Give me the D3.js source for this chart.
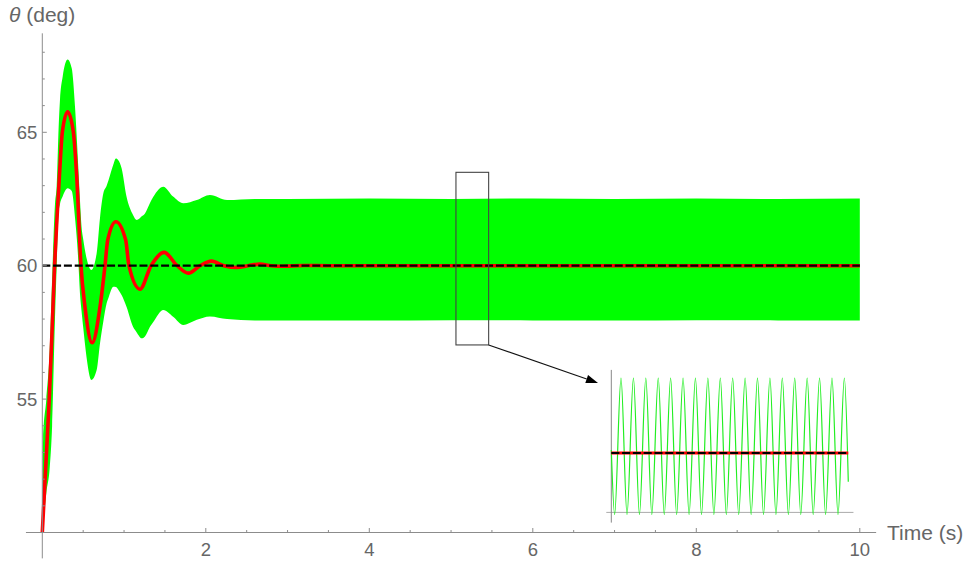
<!DOCTYPE html>
<html>
<head>
<meta charset="utf-8">
<script src="https://cdn.jsdelivr.net/npm/d3@7"></script>
<style>
  body { margin: 0; background: #fff; }
  svg { display: block; }
  text { font-family: "Liberation Sans", Arial, sans-serif; fill: #666; }
</style>
</head>
<body>
<svg id="chart" width="970" height="561"></svg>
<script>
// Filtered response θ(t), time in s, angle in deg
const responseT = [0, 0.04, 0.085, 0.12, 0.15, 0.18, 0.21, 0.245, 0.31, 0.38, 0.42, 0.473, 0.522, 0.61,
  0.706, 0.767, 0.80, 0.90, 1.02, 1.06, 1.195, 1.33, 1.49, 1.65, 1.786, 1.93, 2.07, 2.22, 2.38, 2.52,
  2.66, 2.8, 2.95, 3.2, 3.5, 10];
const responseV = [50, 52.35, 55, 57.6, 60, 61.8, 63.4, 65, 65.77, 65, 63.4, 60, 58.46, 57.11,
  58.46, 60, 60.96, 61.65, 60.96, 60, 59.12, 60, 60.5, 60, 59.72, 60, 60.17, 60, 59.93, 60,
  60.06, 60, 59.98, 60.01, 60, 60];

// Envelope of the raw (vibrating) response
const envelopeT = [0, 0.01, 0.05, 0.09, 0.12, 0.155, 0.176, 0.2, 0.216, 0.25, 0.31, 0.36, 0.40, 0.44,
  0.46, 0.48, 0.50, 0.54, 0.60, 0.665, 0.706, 0.746, 0.787, 0.81, 0.87, 0.90, 0.93, 0.97, 1.03, 1.11,
  1.155, 1.216, 1.256, 1.317, 1.36, 1.48, 1.60, 1.725, 1.89, 2.05, 2.26, 2.6, 3.0, 4, 5, 6, 7, 8, 9, 10];
const envelopeUpper = [50, 53.5, 55, 56.8, 59.5, 62.3, 63, 65.2, 66.2, 67.1, 67.73, 67.4, 65.96, 63.7,
  62.5, 61.46, 61.0, 60.3, 59.84, 60.47, 61.8, 62.71, 63.0, 63.2, 63.8, 64.02, 63.95, 63.65, 62.59, 61.9,
  61.71, 61.85, 61.96, 62.35, 62.59, 62.96, 62.59, 62.34, 62.46, 62.65, 62.46, 62.5, 62.5, 62.52, 62.5,
  62.52, 62.5, 62.52, 62.5, 62.52];
const envelopeLower = [50, 50.3, 51.5, 52.4, 54, 58, 60, 62, 62.3, 62.6, 62.9, 62.8, 61.8, 60.2,
  59, 58.3, 57.7, 56.6, 55.72, 56.09, 57.09, 57.9, 58.59, 58.8, 59.21, 59.2, 59.1, 58.9, 58.46, 57.71,
  57.5, 57.28, 57.35, 57.71, 57.9, 58.34, 58.09, 57.78, 57.97, 58.1, 58.0, 57.95, 57.95, 57.95, 57.96,
  57.95, 57.95, 57.96, 57.95, 57.95];

const setpoint = 60;

// Axis ticks
const xMajorTicks = [2, 4, 6, 8, 10];
const xMinorTicks = [0.5, 1, 1.5, 2.5, 3, 3.5, 4.5, 5, 5.5, 6.5, 7, 7.5, 8.5, 9, 9.5];
const yMajorTicks = [55, 60, 65];
const yMinorTicks = [51, 52, 53, 54, 56, 57, 58, 59, 61, 62, 63, 64, 66, 67, 68];

// Zoomed window [t0, t1] x [v0, v1]
const zoomTime = [5.06, 5.46];
const zoomDeg = [57.03, 63.5];

// Raw response inside the zoomed window: start, alternating troughs and peaks, end
const detailTroughT = [5.0656, 5.0864, 5.1073, 5.1281, 5.1490, 5.1698, 5.1907, 5.2116, 5.2324, 5.2533,
  5.2741, 5.2950, 5.3158, 5.3367, 5.3576, 5.3784, 5.3993, 5.4201, 5.4410];
const detailPeakT = [5.0763, 5.0972, 5.1180, 5.1389, 5.1597, 5.1806, 5.2014, 5.2223, 5.2432, 5.2640,
  5.2849, 5.3057, 5.3266, 5.3474, 5.3683, 5.3892, 5.4100, 5.4309, 5.4517];
const detailTroughV = 57.95;
const detailPeakV = 62.5;
const detailStart = [5.06, 60.1];
const detailEnd = [5.4583, 59.04];

const svg = d3.select("#chart");

// Main scales
const x = d3.scaleLinear().domain([0, 10]).range([42.3, 859.8]);
const y = d3.scaleLinear().domain([50, 60]).range([532.5, 265.7]);

const axisColor = "#8c8c8c";

// Green band: raw response
const envelope = envelopeT.map((t, i) => ({ t, hi: envelopeUpper[i], lo: envelopeLower[i] }));
svg.append("path")
  .datum(envelope)
  .attr("fill", "#00ff00")
  .attr("d", d3.area()
    .x(d => x(d.t))
    .y0(d => y(d.lo))
    .y1(d => y(d.hi))
    .curve(d3.curveMonotoneX));

// Red curve: filtered response
const response = responseT.map((t, i) => ({ t, v: responseV[i] }));
svg.append("path")
  .datum(response)
  .attr("fill", "none")
  .attr("stroke", "#ff0000")
  .attr("stroke-width", 3.6)
  .attr("stroke-linejoin", "round")
  .attr("d", d3.line().x(d => x(d.t)).y(d => y(d.v)).curve(d3.curveMonotoneX));

// Set-point
svg.append("line")
  .attr("x1", x(0)).attr("x2", x(10))
  .attr("y1", y(setpoint)).attr("y2", y(setpoint))
  .attr("stroke", "#000").attr("stroke-width", 2.2)
  .attr("stroke-dasharray", "8,2.8");

// Axes
const axes = svg.append("g");
axes.append("line").attr("x1", x(-0.2)).attr("x2", x(10.2)).attr("y1", y(50)).attr("y2", y(50))
  .attr("stroke", axisColor).attr("stroke-width", 1);
axes.append("line").attr("x1", x(0)).attr("x2", x(0)).attr("y1", y(49.03)).attr("y2", y(68.71))
  .attr("stroke", axisColor).attr("stroke-width", 1);

axes.selectAll(".xmaj").data(xMajorTicks).join("line")
  .attr("x1", d => x(d)).attr("x2", d => x(d)).attr("y1", y(50)).attr("y2", y(50) - 4.5)
  .attr("stroke", axisColor);
axes.selectAll(".xmin").data(xMinorTicks).join("line")
  .attr("x1", d => x(d)).attr("x2", d => x(d)).attr("y1", y(50)).attr("y2", y(50) - 2.5)
  .attr("stroke", axisColor);
axes.selectAll(".ymaj").data(yMajorTicks).join("line")
  .attr("y1", d => y(d)).attr("y2", d => y(d)).attr("x1", x(0)).attr("x2", x(0) + 4.5)
  .attr("stroke", axisColor);
axes.selectAll(".ymin").data(yMinorTicks).join("line")
  .attr("y1", d => y(d)).attr("y2", d => y(d)).attr("x1", x(0)).attr("x2", x(0) + 2.5)
  .attr("stroke", axisColor);

axes.selectAll(".xlab").data(xMajorTicks).join("text")
  .attr("x", d => x(d)).attr("y", 556)
  .attr("text-anchor", "middle").attr("font-size", 18.5)
  .text(d => d);
axes.selectAll(".ylab").data(yMajorTicks).join("text")
  .attr("x", x(0) - 5).attr("y", d => y(d) + 6.7)
  .attr("text-anchor", "end").attr("font-size", 18.5)
  .text(d => d);

svg.append("text").attr("x", 887).attr("y", 540).attr("font-size", 21).text("Time (s)");
const yTitle = svg.append("text").attr("x", 9).attr("y", 22).attr("font-size", 21);
yTitle.append("tspan").attr("font-style", "italic").text("θ");
yTitle.append("tspan").text(" (deg)");

// Zoom window frame
svg.append("rect")
  .attr("x", x(zoomTime[0])).attr("y", y(zoomDeg[1]))
  .attr("width", x(zoomTime[1]) - x(zoomTime[0]))
  .attr("height", y(zoomDeg[0]) - y(zoomDeg[1]))
  .attr("fill", "none").attr("stroke", "#444").attr("stroke-width", 1.1);

// Arrow to the detail view
const ax0 = x(zoomTime[1]), ay0 = y(zoomDeg[0]);
const ax1 = 598, ay1 = 383;
const len = Math.hypot(ax1 - ax0, ay1 - ay0);
const ux = (ax1 - ax0) / len, uy = (ay1 - ay0) / len;
const headL = 12, headW = 4.2;
svg.append("line")
  .attr("x1", ax0).attr("y1", ay0)
  .attr("x2", ax1 - ux * headL).attr("y2", ay1 - uy * headL)
  .attr("stroke", "#111").attr("stroke-width", 1.1);
const bx = ax1 - ux * headL, by = ay1 - uy * headL;
svg.append("polygon")
  .attr("points", [
    [ax1, ay1],
    [bx - uy * headW, by + ux * headW],
    [bx + uy * headW, by - ux * headW]
  ].map(p => p.join(",")).join(" "))
  .attr("fill", "#000");

// Detail view
const ix = d3.scaleLinear().domain([5.06, 5.46]).range([611.3, 849.3]);
const iy = d3.scaleLinear().domain([60, 62.5]).range([453, 378]);
const inset = svg.append("g");

inset.append("line").attr("x1", ix(5.0516)).attr("x2", ix(5.467)).attr("y1", iy(58.02)).attr("y2", iy(58.02))
  .attr("stroke", "#aaa").attr("stroke-width", 1);
inset.append("line").attr("x1", ix(5.06)).attr("x2", ix(5.06)).attr("y1", iy(57.68)).attr("y2", iy(62.77))
  .attr("stroke", "#888").attr("stroke-width", 1);

const detail = [{ t: detailStart[0], v: detailStart[1] }];
detailTroughT.forEach((t, i) => {
  detail.push({ t, v: detailTroughV });
  detail.push({ t: detailPeakT[i], v: detailPeakV });
});
detail.push({ t: detailEnd[0], v: detailEnd[1] });

inset.append("path")
  .datum(detail)
  .attr("fill", "none")
  .attr("stroke", "#22ee22")
  .attr("stroke-width", 1.2)
  .attr("d", d3.line().x(d => ix(d.t)).y(d => iy(d.v)).curve(d3.curveMonotoneX));

inset.append("line").attr("x1", ix(5.06)).attr("x2", ix(5.4583)).attr("y1", iy(setpoint)).attr("y2", iy(setpoint))
  .attr("stroke", "#ff0000").attr("stroke-width", 2.8);
inset.append("line").attr("x1", ix(5.06)).attr("x2", ix(5.4583)).attr("y1", iy(setpoint)).attr("y2", iy(setpoint))
  .attr("stroke", "#000").attr("stroke-width", 2)
  .attr("stroke-dasharray", "8,2.8");
</script>
</body>
</html>
